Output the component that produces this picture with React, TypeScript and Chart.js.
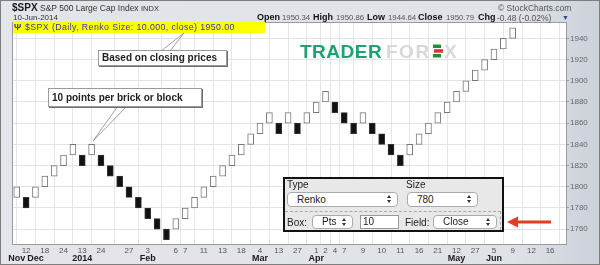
import React, { useEffect, useRef } from "react";
import { Chart, registerables } from "chart.js";

Chart.register(...registerables);

// ---- data ----
const boxSize = 10;
const brickBottoms = [
  1790, 1780, 1790, 1800, 1810, 1820, 1830, 1820, 1830, 1820,
  1810, 1800, 1790, 1780, 1770, 1760, 1750, 1760, 1770, 1780,
  1790, 1800, 1810, 1820, 1830, 1840, 1850, 1860, 1850, 1860,
  1850, 1860, 1870, 1880, 1870, 1860, 1850, 1860, 1850, 1840,
  1830, 1820, 1830, 1840, 1850, 1860, 1870, 1880, 1890, 1900,
  1910, 1920, 1930, 1940,
];
const brickUp = [
  1, 0, 1, 1, 1, 1, 1, 0, 1, 0,
  0, 0, 0, 0, 0, 0, 0, 1, 1, 1,
  1, 1, 1, 1, 1, 1, 1, 1, 0, 1,
  0, 1, 1, 1, 0, 0, 0, 1, 0, 0,
  0, 0, 1, 1, 1, 1, 1, 1, 1, 1,
  1, 1, 1, 1,
];
const dayTickIdx = [1, 3, 5, 7, 9, 12, 14, 17, 18, 20, 22, 24, 26, 28, 30, 32, 33, 34, 35, 37, 39, 41, 43, 45, 47, 49, 51, 53, 55, 57];
const dayLabels = ["12", "18", "24", "13", "24", "27", "3", "6", "7", "11", "13", "18", "4", "13", "27", "1", "2", "4", "7", "9", "10", "11", "16", "21", "12", "27", "5", "9", "12", "16"];
const monthTickIdx = [0, 2, 7, 14, 26, 32, 47, 51];
const monthLabels = ["Nov", "Dec", "2014", "Feb", "Mar", "Apr", "May", "Jun"];
const yTickValues = [1760, 1780, 1800, 1820, 1840, 1860, 1880, 1900, 1920, 1940];
const xMin = -0.4;
const xMax = 58.7;
const yMin = 1746;
const yMax = 1954.5;

const FONT = "'Liberation Sans', Arial, Helvetica, sans-serif";

const framePlugin = {
  id: "frame",
  beforeDraw(chart: any) {
    const { ctx, chartArea: a } = chart;
    ctx.save();
    ctx.fillStyle = "#ffffff";
    ctx.fillRect(a.left, a.top, a.right - a.left, a.bottom - a.top);
    ctx.restore();
  },
  afterDraw(chart: any) {
    const { ctx, chartArea: a } = chart;
    ctx.save();
    ctx.strokeStyle = "#9a9a9a";
    ctx.lineWidth = 1;
    ctx.strokeRect(a.left - 0.5, a.top - 0.5, a.right - a.left + 1, a.bottom - a.top + 1);
    ctx.restore();
  },
};

const abs = (left: number, top: number, extra: any = {}) => ({
  position: "absolute" as const,
  left,
  top,
  lineHeight: 1,
  whiteSpace: "nowrap" as const,
  ...extra,
});

const Arrows = () => (
  <div style={{ position: "absolute", right: 5, top: "50%", marginTop: -4.5, width: 5, height: 9 }}>
    <div style={{ position: "absolute", left: 0, top: 0, width: 0, height: 0, borderLeft: "2.5px solid transparent", borderRight: "2.5px solid transparent", borderBottom: "3.5px solid #333" }} />
    <div style={{ position: "absolute", left: 0, top: 5, width: 0, height: 0, borderLeft: "2.5px solid transparent", borderRight: "2.5px solid transparent", borderTop: "3.5px solid #333" }} />
  </div>
);

const Sel = ({ left, top, width, height, text }: any) => (
  <div
    style={{
      position: "absolute", left, top, width, height, boxSizing: "border-box",
      background: "#fff", border: "1px solid #aaa", borderRadius: 4,
      fontSize: 10, lineHeight: `${height - 2}px`, paddingLeft: 9, color: "#222",
    }}
  >
    {text}
    <Arrows />
  </div>
);

export default function App() {
  const ref = useRef<HTMLCanvasElement>(null);

  useEffect(() => {
    const canvas = ref.current!;
    Chart.defaults.font.family = FONT;
    const chart = new Chart(canvas, {
      type: "bar",
      data: {
        datasets: [
          {
            data: brickBottoms.map((b, i) => ({ x: i, y: [b, b + boxSize] })) as any,
            backgroundColor: brickUp.map((u) => (u ? "#ffffff" : "#111111")),
            borderColor: brickUp.map((u) => (u ? "#777777" : "#333333")),
            borderWidth: 1,
            borderSkipped: false,
            barThickness: 6,
          } as any,
        ],
      },
      options: {
        animation: false,
        responsive: false,
        maintainAspectRatio: false,
        layout: { padding: { left: 13, top: 23, right: 0, bottom: 0 } },
        plugins: { legend: { display: false }, tooltip: { enabled: false } },
        scales: {
          x: {
            type: "linear",
            min: xMin,
            max: xMax,
            offset: false,
            position: "bottom",
            weight: 0,
            grid: { color: "#e6e6e6", drawTicks: false },
            border: { display: false },
            afterBuildTicks: (s: any) => {
              s.ticks = dayTickIdx.map((v) => ({ value: v }));
            },
            afterFit: (s: any) => {
              s.height = 9;
            },
            ticks: {
              autoSkip: false,
              maxRotation: 0,
              padding: 2,
              color: "#555",
              font: { size: 8, family: FONT },
              callback: (_v: any, i: number) => dayLabels[i],
            },
          },
          x2: {
            type: "linear",
            min: xMin,
            max: xMax,
            offset: false,
            position: "bottom",
            weight: 1,
            grid: { display: false, drawTicks: false },
            border: { display: false },
            afterBuildTicks: (s: any) => {
              s.ticks = monthTickIdx.map((v) => ({ value: v }));
            },
            afterFit: (s: any) => {
              s.height = 12;
            },
            ticks: {
              autoSkip: false,
              maxRotation: 0,
              padding: 1,
              color: "#1a1a1a",
              font: { size: 9, weight: "bold", family: FONT, lineHeight: 1 },
              callback: (_v: any, i: number) => monthLabels[i],
            },
          },
          y: {
            type: "linear",
            position: "right",
            min: yMin,
            max: yMax,
            grid: { color: "#e3e3e3", tickLength: 3, tickColor: "#999" },
            border: { display: false },
            afterBuildTicks: (s: any) => {
              s.ticks = yTickValues.map((v) => ({ value: v }));
            },
            afterFit: (s: any) => {
              s.width = 34;
            },
            ticks: {
              padding: 1,
              color: "#666",
              font: { size: 8, family: FONT },
              callback: (v: any) => String(v),
            },
          },
        } as any,
      },
      plugins: [framePlugin],
    });
    return () => chart.destroy();
  }, []);

  return (
    <div
      style={{
        position: "absolute", left: 0, top: 0, width: 600, height: 265, overflow: "hidden",
        boxShadow: "inset 0 0 0 1px #7d7d7d",
        background: "linear-gradient(to right, #e3e5ea 0%, #dfe2e7 85%, #ccd1da 100%)",
        fontFamily: FONT,
      }}
    >
      <canvas ref={ref} width={600} height={265} style={{ position: "absolute", left: 0, top: 0, width: 600, height: 265 }} />

      {/* header */}
      <span style={abs(12, 3, { fontSize: 10, fontWeight: "bold", color: "#1a1a1a" })}>$SPX</span>
      <span style={abs(40, 4, { fontSize: 8.5, color: "#333" })}>S&amp;P 500 Large Cap Index</span>
      <span style={abs(141, 4.5, { fontSize: 7.5, color: "#333" })}>INDX</span>
      <span style={abs(13, 14, { fontSize: 8, color: "#333" })}>10-Jun-2014</span>
      <span style={abs(498, 4, { fontSize: 8.5, color: "#555" })}>© StockCharts.com</span>

      <span style={abs(257, 12.5, { fontSize: 9, fontWeight: "bold", color: "#111" })}>Open</span>
      <span style={abs(282, 13.5, { fontSize: 7.8, color: "#555" })}>1950.34</span>
      <span style={abs(313, 12.5, { fontSize: 9, fontWeight: "bold", color: "#111" })}>High</span>
      <span style={abs(336, 13.5, { fontSize: 7.8, color: "#555" })}>1950.86</span>
      <span style={abs(367, 12.5, { fontSize: 9, fontWeight: "bold", color: "#111" })}>Low</span>
      <span style={abs(388, 13.5, { fontSize: 7.8, color: "#555" })}>1944.64</span>
      <span style={abs(418, 12.5, { fontSize: 9, fontWeight: "bold", color: "#111" })}>Close</span>
      <span style={abs(446, 13.5, { fontSize: 7.8, color: "#555" })}>1950.79</span>
      <span style={abs(478, 12.5, { fontSize: 9, fontWeight: "bold", color: "#111" })}>Chg</span>
      <span style={abs(497, 13.5, { fontSize: 8.5, color: "#555" })}>-0.48 (-0.02%)</span>
      <span style={abs(562, 13.5, { fontSize: 7, color: "#2b4a8a" })}>▼</span>

      {/* yellow legend band */}
      <div style={{ position: "absolute", left: 13, top: 22, width: 252, height: 11, background: "#ffff00" }} />
      <span style={abs(14, 23, { fontSize: 9, fontWeight: "bold", color: "#3434b4" })}>Ψ</span>
      <span style={abs(25, 23, { fontSize: 8.8, color: "#3434b4", letterSpacing: 0.4 })}>
        $SPX (Daily, Renko Size: 10.000, close) 1950.00
      </span>

      {/* watermark logo */}
      <span style={abs(300, 41.5, { fontSize: 19, fontWeight: "bold", color: "#1ca36f", letterSpacing: 0.5 })}>TRADER</span>
      <span style={abs(386, 41.5, { fontSize: 19, fontWeight: "bold", color: "#d8d8d8", letterSpacing: 1.5 })}>FOR</span>
      <svg style={{ position: "absolute", left: 432, top: 44 }} width={13} height={15}>
        <rect x={1} y={0.5} width={8} height={3.5} fill="#1d8f3a" />
        <rect x={2} y={5.2} width={9} height={3.5} fill="#e0302a" />
        <rect x={1} y={10} width={8} height={3.5} fill="#1d8f3a" />
      </svg>
      <span style={abs(444, 41.5, { fontSize: 19, fontWeight: "bold", color: "#d8d8d8" })}>X</span>

      {/* callout pointers and red arrow */}
      <svg style={{ position: "absolute", left: 0, top: 0 }} width={600} height={265}>
        <polygon points="161,51 170,51 184,33" fill="#ffffff" stroke="#8a8a8a" strokeWidth={0.8} />
        <polygon points="118,106 127,106 93,141" fill="#ffffff" stroke="#8a8a8a" strokeWidth={0.8} />
        <polygon points="507,222 518,216.5 518,227.5" fill="#e63b23" />
        <rect x={516} y={220.5} width={35} height={3} fill="#e63b23" />
      </svg>

      {/* callouts */}
      <div
        style={{
          position: "absolute", left: 98, top: 50, width: 129, height: 16, boxSizing: "border-box",
          background: "#fff", border: "1px solid #9a9a9a", boxShadow: "1px 1px 0 #6f6f6f",
          fontSize: 10, fontWeight: "bold", color: "#222", lineHeight: "14px", paddingLeft: 3, whiteSpace: "nowrap",
        }}
      >
        Based on closing prices
      </div>
      <div
        style={{
          position: "absolute", left: 48, top: 88, width: 154, height: 19, boxSizing: "border-box",
          background: "#fff", border: "1px solid #9a9a9a", boxShadow: "1px 1px 0 #6f6f6f",
          fontSize: 10, fontWeight: "bold", color: "#222", lineHeight: "17px", paddingLeft: 3, whiteSpace: "nowrap",
        }}
      >
        10 points per brick or block
      </div>

      {/* settings panel */}
      <div
        style={{
          position: "absolute", left: 283, top: 177, width: 221, height: 55, boxSizing: "border-box",
          background: "#e8e8e8", border: "2px solid #111",
        }}
      />
      <span style={abs(287, 180, { fontSize: 10, color: "#222" })}>Type</span>
      <span style={abs(406, 180, { fontSize: 10, color: "#222" })}>Size</span>
      <Sel left={287} top={192} width={111} height={15} text="Renko" />
      <Sel left={407} top={192} width={71} height={15} text="780" />
      <div style={{ position: "absolute", left: 285, top: 211, width: 216, height: 0, borderTop: "1px dashed #aaa" }} />
      <div style={{ position: "absolute", left: 500, top: 211, width: 0, height: 19, borderLeft: "1px dashed #aaa" }} />
      <span style={abs(287, 218, { fontSize: 10, color: "#222" })}>Box:</span>
      <Sel left={312} top={215} width={41} height={14} text="Pts" />
      <div
        style={{
          position: "absolute", left: 360, top: 215, width: 39, height: 14, boxSizing: "border-box",
          background: "#fff", border: "1px solid #999", fontSize: 10, lineHeight: "12px", paddingLeft: 2, color: "#222",
        }}
      >
        10
      </div>
      <span style={abs(405, 218, { fontSize: 10, color: "#222" })}>Field:</span>
      <Sel left={433} top={215} width={64} height={14} text="Close" />
    </div>
  );
}
